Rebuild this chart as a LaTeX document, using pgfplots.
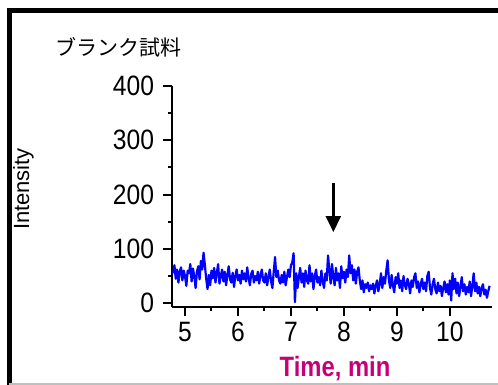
\documentclass[border=0pt]{standalone}
\usepackage{pgfplots}
\pgfplotsset{compat=1.18}
\usepackage{fontspec}
\setmainfont{Liberation Sans}
\newfontfamily\jp{Noto Sans CJK JP}
\newfontfamily\tickfont[FakeStretch=0.88]{Liberation Sans}
\newfontfamily\labfont[FakeStretch=0.85]{Liberation Sans}
\usetikzlibrary{arrows.meta}
\definecolor{trace}{RGB}{0,0,255}
\definecolor{xlab}{RGB}{200,0,120}
\begin{document}
\begin{tikzpicture}[x=1pt,y=1pt]
\useasboundingbox (0,0) rectangle (498,385);
\begin{axis}[
  at={(172.3pt,78pt)}, anchor=south west,
  scale only axis, width=319.4pt, height=221pt,
  xmin=4.76, xmax=10.79, ymin=-7, ymax=400,
  axis lines*=left,
  axis line style={line width=2pt},
  xtick={5,6,7,8,9,10}, ytick={0,100,200,300,400},
  minor tick num=1,
  tick align=outside,
  major tick length=9pt, minor tick length=4.5pt,
  every tick/.style={line width=2pt,black},
  tick label style={font=\tickfont\fontsize{28}{28}\selectfont},
  /pgf/number format/assume math mode=true,
  yticklabel style={inner sep=1pt, xshift=-8pt},
  xticklabel style={inner sep=1pt, yshift=-5pt},
  clip=false,
]
\addplot[color=trace, line width=2.2pt, line join=round] coordinates {
(4.775,55)(4.800,70)(4.825,45)(4.850,62)(4.875,38)(4.900,58)(4.925,66)(4.950,42)(4.975,60)(5.000,50)
(5.025,32)(5.050,60)(5.075,55)(5.100,72)(5.125,40)(5.150,64)(5.175,50)(5.200,28)(5.225,58)(5.250,68)
(5.275,44)(5.300,78)(5.325,62)(5.350,93)(5.375,70)(5.400,45)(5.425,26)(5.450,52)(5.475,33)(5.500,60)
(5.525,46)(5.550,65)(5.575,38)(5.600,55)(5.625,72)(5.650,36)(5.675,50)(5.700,62)(5.725,40)(5.750,58)
(5.775,33)(5.800,52)(5.825,68)(5.850,44)(5.875,38)(5.900,56)(5.925,30)(5.950,50)(5.975,62)(6.000,42)
(6.025,52)(6.050,36)(6.075,60)(6.100,44)(6.125,55)(6.150,40)(6.175,66)(6.200,46)(6.225,33)(6.250,54)
(6.275,60)(6.300,38)(6.325,50)(6.350,42)(6.375,58)(6.400,36)(6.425,52)(6.450,62)(6.475,42)(6.500,38)
(6.525,55)(6.550,33)(6.575,48)(6.600,62)(6.625,40)(6.650,28)(6.675,58)(6.700,85)(6.725,48)(6.750,60)
(6.775,42)(6.800,36)(6.825,52)(6.850,38)(6.875,58)(6.900,33)(6.925,48)(6.950,62)(6.975,48)(7.000,70)
(7.025,75)(7.050,92)(7.075,2)(7.100,55)(7.125,28)(7.150,48)(7.175,65)(7.200,38)(7.225,55)(7.250,30)
(7.275,60)(7.300,42)(7.325,36)(7.350,70)(7.375,40)(7.400,55)(7.425,26)(7.450,50)(7.475,62)(7.500,38)
(7.525,48)(7.550,33)(7.575,60)(7.600,40)(7.625,28)(7.650,55)(7.675,42)(7.700,88)(7.725,60)(7.750,36)
(7.775,72)(7.800,48)(7.825,33)(7.850,65)(7.875,42)(7.900,55)(7.925,28)(7.950,68)(7.975,46)(8.000,58)
(8.025,38)(8.050,62)(8.075,48)(8.100,88)(8.125,55)(8.150,70)(8.175,42)(8.200,62)(8.225,36)(8.250,58)
(8.275,66)(8.300,42)(8.325,26)(8.350,42)(8.375,20)(8.400,35)(8.425,28)(8.450,38)(8.475,22)(8.500,33)
(8.525,26)(8.550,36)(8.575,18)(8.600,32)(8.625,42)(8.650,22)(8.675,35)(8.700,55)(8.725,28)(8.750,48)
(8.775,36)(8.800,60)(8.825,79)(8.850,42)(8.875,28)(8.900,52)(8.925,33)(8.950,20)(8.975,48)(9.000,36)
(9.025,55)(9.050,28)(9.075,42)(9.100,22)(9.125,50)(9.150,33)(9.175,26)(9.200,45)(9.225,36)(9.250,18)
(9.275,42)(9.300,30)(9.325,48)(9.350,55)(9.375,28)(9.400,40)(9.425,20)(9.450,35)(9.475,45)(9.500,26)
(9.525,38)(9.550,22)(9.575,50)(9.600,58)(9.625,28)(9.650,16)(9.675,35)(9.700,45)(9.725,26)(9.750,18)
(9.775,38)(9.800,22)(9.825,32)(9.850,13)(9.875,28)(9.900,40)(9.925,20)(9.950,35)(9.975,16)(10.000,42)
(10.025,5)(10.050,55)(10.075,26)(10.100,45)(10.125,18)(10.150,38)(10.175,13)(10.200,30)(10.225,48)(10.250,22)
(10.275,35)(10.300,16)(10.325,30)(10.350,20)(10.375,40)(10.400,13)(10.425,32)(10.450,55)(10.475,22)(10.500,38)
(10.525,18)(10.550,30)(10.575,13)(10.600,28)(10.625,35)(10.650,16)(10.675,25)(10.700,10)(10.725,22)(10.750,32)
};
\draw[-{Triangle[width=15pt,length=16pt]}, line width=2.5pt] (axis cs:7.8,221) -- (axis cs:7.8,131);
\end{axis}
\node[anchor=base, inner sep=0pt, font=\jp\fontsize{21}{21}\selectfont, anchor=west] at (55,338) {ブランク試料};
\node[rotate=90, anchor=base, inner sep=0pt, font=\fontsize{22}{22}\selectfont] at (29,196) {Intensity};
\node[anchor=base, inner sep=0pt, text=xlab, font=\labfont\bfseries\fontsize{28}{28}\selectfont] at (335,8) {Time, min};
\draw[line width=5pt] (9,-5) -- (9,374) -- (505,374);
\draw[black!25, line width=1.5pt] (9,0.75) -- (505,0.75);
\end{tikzpicture}
\end{document}
